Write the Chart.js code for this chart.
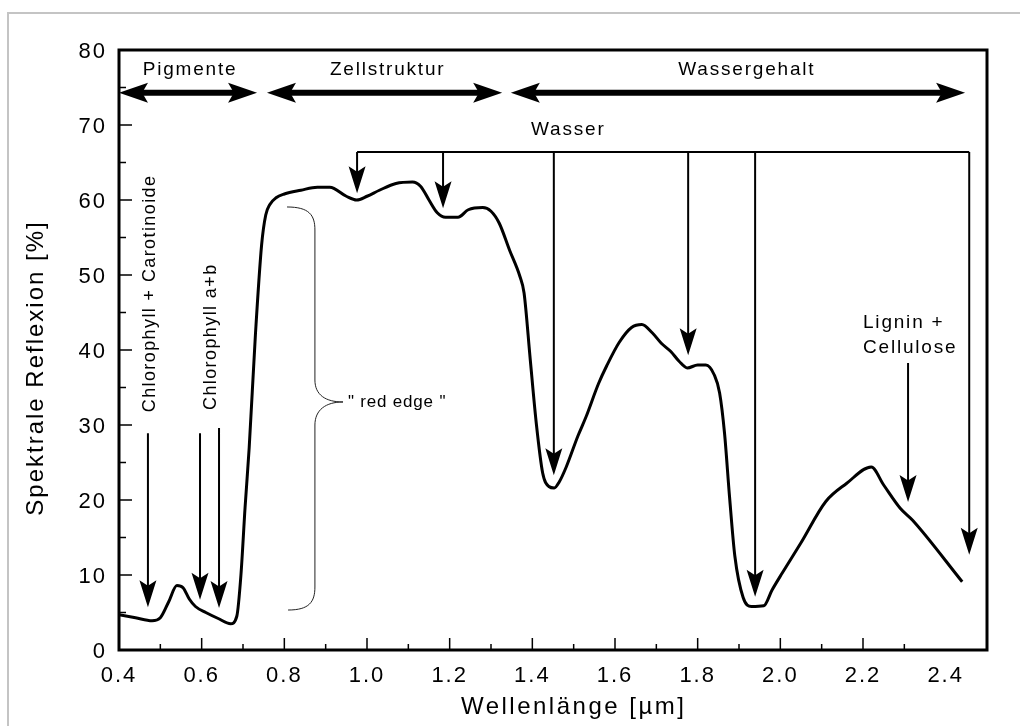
<!DOCTYPE html>
<html lang="de">
<head>
<meta charset="utf-8">
<title>Spektrale Reflexion</title>
<script src="https://cdn.jsdelivr.net/npm/chart.js@4.4.1/dist/chart.umd.min.js"></script>
<style>
  html, body { margin: 0; padding: 0; background: #fff; overflow: hidden; }
  #wrap { position: relative; width: 1020px; height: 726px; }
  #frame { position: absolute; left: 7px; top: 12px; width: 1040px; height: 740px;
           border-left: 2px solid #c4c4c4; border-top: 2px solid #c4c4c4; }
  canvas { position: relative; }
</style>
</head>
<body>
<div id="wrap"><div id="frame"></div><canvas id="spektrum"></canvas></div>
<script>
// Wellenlaenge in µm und Reflexion in %
const wavelength = [
  0.40, 0.44, 0.48, 0.50, 0.52, 0.54, 0.555, 0.57, 0.585, 0.61, 0.64, 0.67, 0.685,
  0.695, 0.705, 0.715, 0.73, 0.745, 0.755, 0.765, 0.78, 0.80, 0.84, 0.88, 0.91,
  0.95, 0.975, 1.00, 1.03, 1.07, 1.11, 1.13, 1.15, 1.17, 1.19, 1.22, 1.245, 1.28,
  1.30, 1.32, 1.345, 1.37, 1.38, 1.395, 1.41, 1.425, 1.44, 1.453, 1.465, 1.482,
  1.51, 1.53, 1.56, 1.58, 1.61, 1.64, 1.665, 1.69, 1.712, 1.735, 1.755, 1.775,
  1.80, 1.82, 1.84, 1.853, 1.865, 1.877, 1.89, 1.91, 1.93, 1.96, 1.98, 2.005,
  2.05, 2.11, 2.16, 2.22, 2.25, 2.29, 2.32, 2.44
];
const reflexion = [
  4.7, 4.3, 3.9, 4.3, 6.4, 8.6, 8.3, 6.8, 5.8, 5.0, 4.2, 3.5, 4.5,
  10, 19, 27, 42, 54, 58, 59.4, 60.3, 60.8, 61.3, 61.7, 61.7,
  60.5, 60.0, 60.5, 61.3, 62.2, 62.4, 61.8, 60.0, 58.3, 57.7, 57.7, 58.7, 59.0,
  58.5, 56.9, 53.3, 49.8, 47.6, 38.7, 30.0, 23.6, 21.8, 21.6, 22.4, 24.4,
  28.5, 31.1, 35.5, 37.9, 41.0, 43.0, 43.4, 42.3, 40.9, 39.8, 38.5, 37.6,
  38.0, 38.0, 36.7, 34.3, 28.9, 20.5, 12.5, 7.0, 5.8, 5.9, 8.0, 10.3,
  14.3, 19.8, 22.2, 24.4, 22.0, 18.9, 17.3, 9.1
];
const xTicks = [0.4, 0.6, 0.8, 1.0, 1.2, 1.4, 1.6, 1.8, 2.0, 2.2, 2.4];
const yTicks = [0, 10, 20, 30, 40, 50, 60, 70, 80];

// Beschriftungen (Datenkoordinaten)
const bereiche = [
  { text: "Pigmente", from: 0.40, to: 0.734, mid: 0.572 },
  { text: "Zellstruktur", from: 0.758, to: 1.327, mid: 1.050 },
  { text: "Wassergehalt", from: 1.348, to: 2.447, mid: 1.919 }
];
const wasserX = [0.976, 1.184, 1.452, 1.777, 1.939, 2.457];
const wasserTip = [60.9, 58.9, 23.3, 39.3, 7.1, 12.7];
const chloroX = [0.470, 0.596, 0.642];
const chloroTop = [28.9, 28.9, 29.6];
const chloroTip = [5.7, 6.7, 5.6];

const FONT = "'Liberation Sans', Arial, Helvetica, sans-serif";

function headDown(ctx, x, tip, len, half) {
  ctx.beginPath();
  ctx.moveTo(x, tip);
  ctx.lineTo(x - half, tip - len);
  ctx.lineTo(x, tip - len * 0.8);
  ctx.lineTo(x + half, tip - len);
  ctx.closePath();
  ctx.fill();
}

function headSide(ctx, tip, y, dir, len, half) {
  ctx.beginPath();
  ctx.moveTo(tip, y);
  ctx.lineTo(tip - dir * len, y - half);
  ctx.lineTo(tip - dir * len * 0.8, y);
  ctx.lineTo(tip - dir * len, y + half);
  ctx.closePath();
  ctx.fill();
}

function text(ctx, str, x, y, size, spacing, align) {
  ctx.font = size + "px " + FONT;
  ctx.letterSpacing = spacing + "px";
  ctx.textAlign = align || "left";
  ctx.fillText(str, x, y);
}

const annotate = {
  id: "annotate",
  beforeDraw(chart) {
    chart.ctx.letterSpacing = "2px";
  },
  afterDraw(chart) {
    const ctx = chart.ctx;
    const xs = chart.scales.x, ys = chart.scales.y;
    const a = chart.chartArea;
    const X = v => xs.getPixelForValue(v);
    const Y = v => ys.getPixelForValue(v);
    ctx.save();
    ctx.fillStyle = "#000";
    ctx.strokeStyle = "#000";

    // Rahmen
    ctx.lineWidth = 3;
    ctx.strokeRect(a.left, a.top, a.right - a.left, a.bottom - a.top);

    // Ticks nach innen
    ctx.lineWidth = 1.5;
    ctx.beginPath();
    for (let v = 5; v < 80; v += 5) {
      const len = v % 10 === 0 ? 13 : 7;
      ctx.moveTo(a.left, Y(v)); ctx.lineTo(a.left + len, Y(v));
    }
    for (let k = 1; k <= 19; k++) {
      const v = 0.4 + k * 0.1;
      const len = k % 2 === 0 ? 12 : 6;
      ctx.moveTo(X(v), a.bottom); ctx.lineTo(X(v), a.bottom - len);
    }
    ctx.stroke();

    // Bereichspfeile oben
    ctx.textBaseline = "alphabetic";
    bereiche.forEach(b => {
      const y = Y(74.3);
      const x1 = X(b.from), x2 = X(b.to);
      ctx.lineWidth = 6;
      ctx.beginPath(); ctx.moveTo(x1 + 20, y); ctx.lineTo(x2 - 20, y); ctx.stroke();
      headSide(ctx, x1, y, -1, 29, 10);
      headSide(ctx, x2, y, 1, 29, 10);
      text(ctx, b.text, X(b.mid), Y(76.7), 19, 1.8, "center");
    });

    // Wasser
    text(ctx, "Wasser", X(1.487), Y(68.67), 19, 1.8, "center");
    ctx.lineWidth = 2;
    ctx.beginPath();
    ctx.moveTo(X(wasserX[0]), Y(66.4));
    ctx.lineTo(X(wasserX[wasserX.length - 1]), Y(66.4));
    wasserX.forEach((w, i) => {
      ctx.moveTo(X(w), Y(66.4));
      ctx.lineTo(X(w), Y(wasserTip[i]) - 20);
    });
    ctx.stroke();
    wasserX.forEach((w, i) => headDown(ctx, X(w), Y(wasserTip[i]), 27, 8.5));

    // Chlorophyll
    ctx.beginPath();
    chloroX.forEach((c, i) => {
      ctx.moveTo(X(c), Y(chloroTop[i]));
      ctx.lineTo(X(c), Y(chloroTip[i]) - 20);
    });
    ctx.stroke();
    chloroX.forEach((c, i) => headDown(ctx, X(c), Y(chloroTip[i]), 27, 8.5));

    const vertical = (str, x, y) => {
      ctx.save();
      ctx.translate(x, y);
      ctx.rotate(-Math.PI / 2);
      text(ctx, str, 0, 0, 18, 1.4, "left");
      ctx.restore();
    };
    vertical("Chlorophyll + Carotinoide", X(0.487), Y(31.7));
    vertical("Chlorophyll a+b", X(0.6347), Y(32.0));

    // red edge Klammer
    ctx.lineWidth = 1;
    ctx.strokeStyle = "#222";
    ctx.beginPath();
    ctx.moveTo(X(0.8065), Y(59.07));
    ctx.bezierCurveTo(X(0.86), Y(59.07), X(0.874), Y(58.0), X(0.874), Y(56.0));
    ctx.lineTo(X(0.874), Y(36.0));
    ctx.bezierCurveTo(X(0.874), Y(34.0), X(0.90), Y(33.07), X(0.942), Y(33.07));
    ctx.bezierCurveTo(X(0.90), Y(33.07), X(0.874), Y(32.0), X(0.874), Y(30.0));
    ctx.lineTo(X(0.874), Y(8.4));
    ctx.bezierCurveTo(X(0.874), Y(6.4), X(0.86), Y(5.33), X(0.809), Y(5.33));
    ctx.stroke();
    text(ctx, "\" red edge \"", X(0.954), Y(32.4), 17, 0.8, "left");

    // Lignin + Cellulose
    text(ctx, "Lignin +", X(2.200), Y(42.93), 19, 1.8, "left");
    text(ctx, "Cellulose", X(2.200), Y(39.6), 19, 1.8, "left");
    ctx.strokeStyle = "#000";
    ctx.lineWidth = 2;
    ctx.beginPath();
    ctx.moveTo(X(2.309), Y(38.27));
    ctx.lineTo(X(2.309), Y(19.73) - 20);
    ctx.stroke();
    headDown(ctx, X(2.309), Y(19.73), 27, 8.5);

    // Achsentitel
    ctx.textBaseline = "middle";
    text(ctx, "Wellenlänge [µm]", X(1.5), 707, 24, 2.5, "center");
    ctx.save();
    ctx.translate(36, Y(37.6));
    ctx.rotate(-Math.PI / 2);
    text(ctx, "Spektrale Reflexion [%]", 0, 0, 24, 2, "center");
    ctx.restore();

    ctx.restore();
  }
};

new Chart(document.getElementById("spektrum"), {
  type: "line",
  data: {
    datasets: [{
      data: wavelength.map((w, i) => ({ x: w, y: reflexion[i] })),
      borderColor: "#000",
      borderWidth: 3,
      pointRadius: 0,
      cubicInterpolationMode: "monotone",
      fill: false
    }]
  },
  options: {
    responsive: true,
    maintainAspectRatio: false,
    animation: false,
    events: [],
    layout: { padding: { top: 50, right: 33, left: 0, bottom: 0 } },
    plugins: { legend: { display: false }, tooltip: { enabled: false } },
    scales: {
      x: {
        type: "linear",
        min: 0.4,
        max: 2.5,
        grid: { display: false, drawTicks: false },
        border: { display: false },
        afterBuildTicks: s => { s.ticks = xTicks.map(v => ({ value: v })); },
        afterFit: s => { s.height = 76; },
        ticks: {
          padding: 13,
          color: "#000",
          font: { family: FONT, size: 22 },
          maxRotation: 0,
          callback: v => Number(v).toFixed(1)
        }
      },
      y: {
        min: 0,
        max: 80,
        grid: { display: false, drawTicks: false },
        border: { display: false },
        afterBuildTicks: s => { s.ticks = yTicks.map(v => ({ value: v })); },
        afterFit: s => { s.width = 119; },
        ticks: {
          padding: 12,
          labelOffset: 2,
          color: "#000",
          font: { family: FONT, size: 22 }
        }
      }
    }
  },
  plugins: [annotate]
});
</script>
</body>
</html>
